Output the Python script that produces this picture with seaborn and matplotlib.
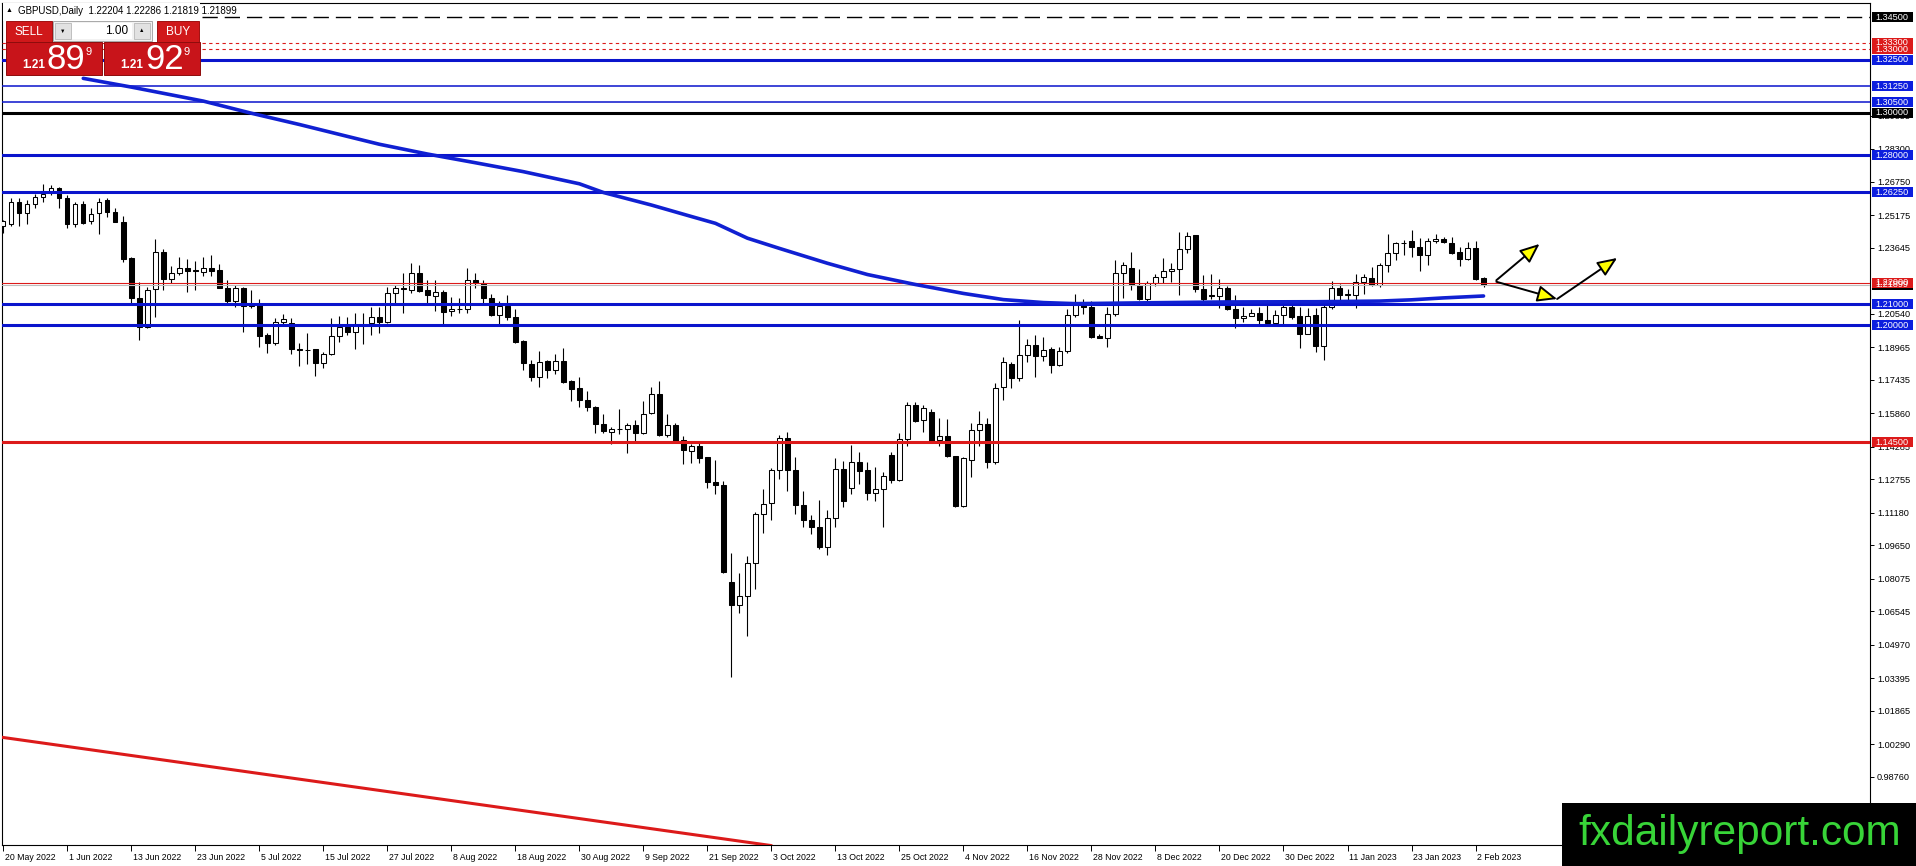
import numpy as np
import matplotlib.pyplot as plt
import matplotlib.transforms as mtransforms
from matplotlib.patches import Rectangle
import seaborn as sns

# ===============================
# DATA
# ===============================
opens = [1.2467, 1.2475, 1.2581, 1.2527, 1.2569, 1.2602, 1.2628, 1.2644, 1.2597, 1.2479,
         1.2569, 1.2490, 1.2527, 1.2589, 1.2531, 1.2487, 1.2315, 1.2127, 1.1993, 1.2169,
         1.2343, 1.2216, 1.2244, 1.2272, 1.2259, 1.2252, 1.2268, 1.2260, 1.2177, 1.2116,
         1.2174, 1.2091, 1.2098, 1.1953, 1.1918, 1.2017, 1.2009, 1.1887, 1.1884, 1.1887,
         1.1821, 1.1865, 1.1949, 1.1993, 1.1970, 1.2001, 1.2009, 1.2037, 1.2017, 1.2150,
         1.2174, 1.2166, 1.2244, 1.2166, 1.2139, 1.2155, 1.2067, 1.2075, 1.2075, 1.2213,
         1.2197, 1.2127, 1.2048, 1.2089, 1.2041, 1.1926, 1.1816, 1.1756, 1.1830, 1.1791,
         1.1830, 1.1737, 1.1704, 1.1649, 1.1618, 1.1536, 1.1500, 1.1513, 1.1513, 1.1529,
         1.1494, 1.1588, 1.1678, 1.1485, 1.1532, 1.1461, 1.1411, 1.1430, 1.1379, 1.1265,
         1.1251, 1.0794, 1.0684, 1.0728, 1.0882, 1.1112, 1.1163, 1.1317, 1.1470, 1.1320,
         1.1155, 1.1084, 1.1053, 1.0959, 1.1094, 1.1324, 1.1235, 1.1356, 1.1317, 1.1211,
         1.1230, 1.1392, 1.1273, 1.1466, 1.1623, 1.1555, 1.1591, 1.1461, 1.1481, 1.1387,
         1.1152, 1.1367, 1.1508, 1.1536, 1.1356, 1.1708, 1.1818, 1.1752, 1.1861, 1.1908,
         1.1854, 1.1889, 1.1813, 1.1878, 1.2050, 1.2105, 1.2086, 1.1952, 1.1941, 1.2054,
         1.2248, 1.2272, 1.2188, 1.2125, 1.2199, 1.2228, 1.2256, 1.2267, 1.2361, 1.2424,
         1.2172, 1.2143, 1.2136, 1.2177, 1.2078, 1.2035, 1.2045, 1.2057, 1.2026, 1.2010,
         1.2050, 1.2086, 1.2042, 1.1960, 1.2050, 1.1902, 1.2086, 1.2176, 1.2144, 1.2141,
         1.2204, 1.2225, 1.2188, 1.2283, 1.2338, 1.2385, 1.2396, 1.2369, 1.2333, 1.2396,
         1.2404, 1.2388, 1.2343, 1.2314, 1.2366, 1.22204]
highs = [1.2495, 1.2597, 1.2597, 1.2592, 1.2616, 1.2663, 1.2658, 1.2649, 1.2613, 1.2581,
         1.2585, 1.2550, 1.2600, 1.2597, 1.2550, 1.2514, 1.2323, 1.2205, 1.2182, 1.2404,
         1.2357, 1.2279, 1.2320, 1.2310, 1.2304, 1.2320, 1.2330, 1.2288, 1.2213, 1.2189,
         1.2182, 1.2166, 1.2122, 1.1962, 1.2033, 1.2053, 1.2036, 1.1915, 1.1965, 1.1890,
         1.1874, 1.2033, 1.2044, 1.2037, 1.2056, 1.2059, 1.2087, 1.2087, 1.2182, 1.2189,
         1.2244, 1.2294, 1.2283, 1.2213, 1.2213, 1.2166, 1.2134, 1.2127, 1.2272, 1.2244,
         1.2213, 1.2147, 1.2116, 1.2142, 1.2075, 1.1932, 1.1835, 1.1879, 1.1835, 1.1863,
         1.1894, 1.1744, 1.1759, 1.1693, 1.1620, 1.1583, 1.1521, 1.1607, 1.1540, 1.1555,
         1.1643, 1.1709, 1.1736, 1.1583, 1.1540, 1.1477, 1.1442, 1.1458, 1.1382, 1.1364,
         1.1269, 1.0927, 1.0833, 1.0916, 1.1120, 1.1230, 1.1329, 1.1486, 1.1497, 1.1379,
         1.1222, 1.1109, 1.1178, 1.1131, 1.1376, 1.1361, 1.1439, 1.1403, 1.1356, 1.1332,
         1.1309, 1.1403, 1.1492, 1.1638, 1.1638, 1.1623, 1.1607, 1.1565, 1.1560, 1.1387,
         1.1379, 1.1540, 1.1596, 1.1565, 1.1728, 1.1853, 1.1826, 1.2023, 1.1936, 1.1955,
         1.1947, 1.1897, 1.1900, 1.2078, 1.2149, 1.2125, 1.2114, 1.1960, 1.2086, 1.2306,
         1.2298, 1.2343, 1.2267, 1.2209, 1.2243, 1.2319, 1.2295, 1.2440, 1.2440, 1.2424,
         1.2235, 1.2240, 1.2220, 1.2183, 1.2141, 1.2086, 1.2078, 1.2086, 1.2120, 1.2073,
         1.2094, 1.2094, 1.2086, 1.2083, 1.2083, 1.2094, 1.2209, 1.2193, 1.2172, 1.2243,
         1.2243, 1.2275, 1.2294, 1.2432, 1.2393, 1.2401, 1.2448, 1.2409, 1.2409, 1.2429,
         1.2417, 1.2417, 1.2369, 1.2390, 1.2396, 1.22286]
lows = [1.2436, 1.2468, 1.2468, 1.2479, 1.2550, 1.2581, 1.2613, 1.2553, 1.2456, 1.2464,
        1.2476, 1.2475, 1.2428, 1.2508, 1.2484, 1.2296, 1.2100, 1.1931, 1.1986, 1.2037,
        1.2166, 1.2200, 1.2236, 1.2158, 1.2166, 1.2232, 1.2232, 1.2174, 1.2106, 1.2087,
        1.1970, 1.2080, 1.1896, 1.1871, 1.1907, 1.2006, 1.1865, 1.1808, 1.1818, 1.1761,
        1.1797, 1.1860, 1.1923, 1.1954, 1.1887, 1.1912, 1.1954, 1.1962, 1.2009, 1.2103,
        1.2059, 1.2153, 1.2155, 1.2103, 1.2069, 1.2006, 1.2044, 1.2059, 1.2059, 1.2174,
        1.2103, 1.2044, 1.2006, 1.2026, 1.1916, 1.1791, 1.1737, 1.1712, 1.1753, 1.1772,
        1.1728, 1.1643, 1.1615, 1.1596, 1.1492, 1.1492, 1.1442, 1.1489, 1.1398, 1.1450,
        1.1489, 1.1583, 1.1481, 1.1474, 1.1450, 1.1348, 1.1351, 1.1351, 1.1233, 1.1207,
        1.0833, 1.0343, 1.0645, 1.0536, 1.0759, 1.1021, 1.1084, 1.1277, 1.1222, 1.1112,
        1.1050, 1.1018, 1.0948, 1.0921, 1.1053, 1.1147, 1.1207, 1.1254, 1.1178, 1.1172,
        1.1053, 1.1257, 1.1266, 1.1430, 1.1544, 1.1497, 1.1450, 1.1430, 1.1379, 1.1147,
        1.1144, 1.1285, 1.1430, 1.1329, 1.1348, 1.1648, 1.1705, 1.1736, 1.1826, 1.1755,
        1.1834, 1.1774, 1.1810, 1.1868, 1.2039, 1.2054, 1.1941, 1.1938, 1.1897, 1.2046,
        1.2128, 1.2165, 1.2120, 1.2114, 1.2183, 1.2199, 1.2204, 1.2143, 1.2338, 1.2157,
        1.2114, 1.2125, 1.2083, 1.2073, 1.1988, 1.2015, 1.2042, 1.2004, 1.2007, 1.2004,
        1.2007, 1.2031, 1.1894, 1.1957, 1.1873, 1.1837, 1.2078, 1.2117, 1.2117, 1.2083,
        1.2149, 1.2183, 1.2180, 1.2251, 1.2306, 1.2330, 1.2322, 1.2256, 1.2283, 1.2388,
        1.2388, 1.2335, 1.2278, 1.2306, 1.2215, 1.21819]
closes = [1.2491, 1.2581, 1.2527, 1.2569, 1.2605, 1.2616, 1.2644, 1.2597, 1.2479, 1.2569,
          1.2483, 1.2522, 1.2581, 1.2531, 1.2487, 1.2310, 1.2127, 1.1993, 1.2166, 1.2343,
          1.2216, 1.2244, 1.2272, 1.2257, 1.2255, 1.2268, 1.2257, 1.2177, 1.2116, 1.2174,
          1.2091, 1.2095, 1.1949, 1.1918, 1.2017, 1.2028, 1.1887, 1.1884, 1.1883, 1.1821,
          1.1865, 1.1949, 1.1993, 1.1970, 1.2001, 1.2003, 1.2037, 1.2017, 1.2150, 1.2174,
          1.2172, 1.2244, 1.2163, 1.2142, 1.2155, 1.2064, 1.2075, 1.2076, 1.2213, 1.2200,
          1.2127, 1.2048, 1.2091, 1.2041, 1.1920, 1.1822, 1.1756, 1.1827, 1.1788, 1.1830,
          1.1733, 1.1701, 1.1649, 1.1615, 1.1536, 1.1502, 1.1513, 1.1512, 1.1529, 1.1494,
          1.1583, 1.1678, 1.1485, 1.1532, 1.1458, 1.1414, 1.1430, 1.1376, 1.1262, 1.1249,
          1.0838, 1.0684, 1.0728, 1.0882, 1.1112, 1.1160, 1.1317, 1.1470, 1.1320, 1.1155,
          1.1084, 1.1050, 1.0959, 1.1094, 1.1324, 1.1172, 1.1356, 1.1313, 1.1210, 1.1230,
          1.1293, 1.1273, 1.1466, 1.1623, 1.1552, 1.1612, 1.1458, 1.1481, 1.1383, 1.1152,
          1.1376, 1.1508, 1.1536, 1.1356, 1.1706, 1.1826, 1.1752, 1.1861, 1.1908, 1.1854,
          1.1884, 1.1813, 1.1881, 1.2050, 1.2105, 1.2086, 1.1947, 1.1941, 1.2054, 1.2248,
          1.2286, 1.2188, 1.2125, 1.2199, 1.2228, 1.2256, 1.2267, 1.2361, 1.2421, 1.2169,
          1.2125, 1.2138, 1.2177, 1.2076, 1.2035, 1.2045, 1.2057, 1.2026, 1.2010, 1.2050,
          1.2086, 1.2039, 1.1960, 1.2046, 1.1902, 1.2086, 1.2176, 1.2144, 1.2146, 1.2204,
          1.2228, 1.2188, 1.2283, 1.2338, 1.2385, 1.2388, 1.2369, 1.2333, 1.2396, 1.2404,
          1.2390, 1.2341, 1.2314, 1.2365, 1.2217, 1.21899]

date_labels = ["20 May 2022", "1 Jun 2022", "13 Jun 2022", "23 Jun 2022", "5 Jul 2022",
               "15 Jul 2022", "27 Jul 2022", "8 Aug 2022", "18 Aug 2022", "30 Aug 2022",
               "9 Sep 2022", "21 Sep 2022", "3 Oct 2022", "13 Oct 2022", "25 Oct 2022",
               "4 Nov 2022", "16 Nov 2022", "28 Nov 2022", "8 Dec 2022", "20 Dec 2022",
               "30 Dec 2022", "11 Jan 2023", "23 Jan 2023", "2 Feb 2023"]
date_bars = list(range(0, 185, 8))

# moving average, read at a set of bars
ma_bars = [10, 16, 25, 31, 37, 43, 47, 53, 59, 65, 72, 75, 81, 86, 89, 93, 97,
           103, 108, 114, 120, 125, 130, 134, 143, 153, 164, 172, 176, 180, 185]
ma_values = [1.3162, 1.3121, 1.3055, 1.2998, 1.2945, 1.2889, 1.2852, 1.2806, 1.2765,
             1.2723, 1.2666, 1.2625, 1.2566, 1.2512, 1.2480, 1.2410, 1.2362, 1.2292,
             1.2239, 1.2192, 1.2150, 1.2121, 1.2107, 1.2102, 1.2106, 1.2110, 1.2111,
             1.2114, 1.2120, 1.2129, 1.2138]

# red trend line anchors
trend_bars = [-1, 96]
trend_values = [1.0066, 0.9552]

# horizontal levels
levels = [1.34500, 1.33000, 1.33300, 1.32500, 1.31250, 1.30500, 1.30000,
          1.28000, 1.26250, 1.22000, 1.21000, 1.20000, 1.14500]
level_kinds = ["black_dash", "red_dot", "red_dot", "blue_thick", "blue_thin", "blue_thin",
               "black_thick", "blue_thick", "blue_thick", "red_thin", "blue_thick",
               "blue_thick", "red_thick"]

bid = 1.21899
header_ohlc = [1.22204, 1.22286, 1.21819, 1.21899]

tick_values = [0.98760, 1.00290, 1.01865, 1.03395, 1.04970, 1.06545, 1.08075,
               1.09650, 1.11180, 1.12755, 1.14285, 1.15860, 1.17435, 1.18965, 1.20540,
               1.23645, 1.25175, 1.26750, 1.28300, 1.29855]

# arrows drawn on the chart: (bar0, price0, bar1, price1)
arrow_segments = [(186.6, 1.2212, 192.0, 1.2383),
                  (186.6, 1.2205, 194.2, 1.2124),
                  (194.2, 1.2124, 201.7, 1.2317)]

# ===============================
# STYLE
# ===============================
W, H = 1916, 866
BLUE = "#0a14cc"
BLUE_BOX = "#0c1ede"
RED = "#dc1a1a"
kind_style = {
    "black_dash": dict(color="black", lw=1.0, ls=(0, (11, 5)), box="black"),
    "red_dot": dict(color=RED, lw=0.8, ls=(0, (3, 3)), box=RED),
    "blue_thick": dict(color=BLUE, lw=2.2, ls="-", box=BLUE_BOX),
    "blue_thin": dict(color=BLUE, lw=1.1, ls="-", box=BLUE_BOX),
    "black_thick": dict(color="black", lw=2.2, ls="-", box="black"),
    "red_thin": dict(color=RED, lw=0.8, ls="-", box=RED),
    "red_thick": dict(color=RED, lw=2.2, ls="-", box=RED),
}

sns.set_theme(style="white")
plt.rcParams["font.family"] = ["Liberation Sans", "DejaVu Sans"]
plt.rcParams["axes.linewidth"] = 0.8

fig = plt.figure(figsize=(W / 100, H / 100), dpi=100)
fig.patch.set_facecolor("white")
ax = fig.add_axes([2 / W, (H - 845) / H, 1868 / W, 842.3 / H])
ax.set_facecolor("white")

# ===============================
# CANDLES
# ===============================
o = np.array(opens)
c = np.array(closes)
hi = np.array(highs)
lo = np.array(lows)
idx = np.arange(len(o))
up = c >= o
body_lo = np.minimum(o, c)
body_h = np.maximum(np.abs(c - o), 0.00004)

ax.vlines(idx, lo, hi, color="black", lw=0.8, zorder=2)
ax.bar(idx[up], body_h[up], bottom=body_lo[up], width=0.55, color="white",
       edgecolor="black", linewidth=0.75, zorder=3)
ax.bar(idx[~up], body_h[~up], bottom=body_lo[~up], width=0.55, color="black",
       edgecolor="black", linewidth=0.75, zorder=3)

# ===============================
# LEVELS, MA, TREND
# ===============================
for lv, kind in zip(levels, level_kinds):
    st = kind_style[kind]
    ax.axhline(lv, color=st["color"], lw=st["lw"], ls=st["ls"], zorder=4)
ax.axhline(bid, color="#bdbdbd", lw=0.8, zorder=3.5)

sns.lineplot(x=ma_bars, y=ma_values, ax=ax, color="#1020d2", lw=2.6, zorder=5)
sns.lineplot(x=trend_bars, y=trend_values, ax=ax, color=RED, lw=2.2, zorder=5)

for x0, y0, x1, y1 in arrow_segments:
    ax.annotate("", xy=(x1, y1), xytext=(x0, y0), zorder=6,
                arrowprops=dict(arrowstyle="-|>,head_length=1.0,head_width=0.42",
                                fc="#ffff00", ec="black", lw=1.4,
                                shrinkA=0, shrinkB=0))

ax.set_xlim(-0.16, 233.3)
ax.set_ylim(0.95548, 1.3518)

# ===============================
# AXES / TICKS
# ===============================
for sp in ax.spines.values():
    sp.set_color("black")
    sp.set_linewidth(0.8)
ax.yaxis.tick_right()
ax.set_yticks(tick_values)
ax.set_yticklabels([f"{v:.5f}" for v in tick_values])
ax.tick_params(axis="y", right=True, left=False, length=3, width=0.7,
               pad=2, labelsize=6.6, colors="black")
ax.set_xticks(date_bars)
ax.set_xticklabels(date_labels)
ax.tick_params(axis="x", bottom=True, length=4, width=0.7, pad=1.5,
               labelsize=6.3, colors="black")
shift = mtransforms.ScaledTranslation(1.5 / 100, 0, fig.dpi_scale_trans)
for lbl in ax.get_xticklabels():
    lbl.set_ha("left")
    lbl.set_transform(lbl.get_transform() + shift)
ax.grid(False)

# price boxes at the right
box_tr = mtransforms.blended_transform_factory(fig.transFigure, ax.transData)
box_h = 10 * 0.0004705


def price_box(value, color):
    ax.add_patch(Rectangle((1872 / W, value - box_h / 2), 41 / W, box_h,
                           transform=box_tr, facecolor=color, edgecolor="none",
                           clip_on=False, zorder=20))
    ax.text(1875 / W, value, f"{value:.5f}", transform=box_tr, color="white",
            fontsize=6.6, ha="left", va="center", clip_on=False, zorder=21)


price_box(bid, "black")
for lv, kind in zip(levels, level_kinds):
    price_box(lv, kind_style[kind]["box"])


# ===============================
# ONE-CLICK PANEL & HEADER
# ===============================
def fig_rect(x, y, w, h, **kw):
    fig.add_artist(Rectangle((x / W, 1 - (y + h) / H), w / W, h / H,
                             transform=fig.transFigure, **kw))


def fig_text(x, y, s, **kw):
    fig.text(x / W, 1 - y / H, s, **kw)


fig_rect(3, 3, 197, 18, facecolor="white", edgecolor="none", zorder=8)
fig_text(6, 11, "\u25B2", fontsize=5, color="black", va="center", zorder=9)
fig_text(18, 11, "GBPUSD,Daily  " + " ".join(f"{v:.5f}" for v in header_ohlc),
         fontsize=7, color="black", va="center", zorder=9)

fig_rect(6, 21, 46, 21, facecolor="#d0181a", edgecolor="#a01010", lw=0.7, zorder=8)
fig_text(29, 32, "SELL", fontsize=8.5, color="white", ha="center", va="center", zorder=9)
fig_rect(53, 21, 99, 20, facecolor="#f2f2f2", edgecolor="#a8a8a8", lw=0.7, zorder=8)
fig_rect(55, 23, 16, 16, facecolor="#e2e2e2", edgecolor="#b8b8b8", lw=0.6, zorder=9)
fig_text(63, 31, "\u25BC", fontsize=4, color="black", ha="center", va="center", zorder=10)
fig_rect(72, 23, 60, 16, facecolor="white", edgecolor="none", zorder=9)
fig_text(128, 31, "1.00", fontsize=8.5, color="black", ha="right", va="center", zorder=10)
fig_rect(134, 23, 16, 16, facecolor="#e2e2e2", edgecolor="#b8b8b8", lw=0.6, zorder=9)
fig_text(142, 31, "\u25B2", fontsize=4, color="black", ha="center", va="center", zorder=10)
fig_rect(157, 21, 42, 21, facecolor="#d0181a", edgecolor="#a01010", lw=0.7, zorder=8)
fig_text(178, 32, "BUY", fontsize=8.5, color="white", ha="center", va="center", zorder=9)

for bx, big in [(6, "89"), (104, "92")]:
    fig_rect(bx, 42, 96, 33, facecolor="#c8141a", edgecolor="#8e0c0c", lw=0.7, zorder=8)
    fig_text(bx + 16, 68, "1.21", fontsize=8.5, color="white", fontweight="bold",
             va="baseline", zorder=9)
    fig_text(bx + 41, 69, big, fontsize=25, color="white", va="baseline", zorder=9)
    fig_text(bx + 79, 55, "9", fontsize=8, color="white", va="baseline", zorder=9)

# watermark
fig_rect(1562, 803, 354, 63, facecolor="black", edgecolor="none", zorder=8)
fig_text(1578, 845, "fxdailyreport.com", fontsize=30.5, color="#38d438",
         va="baseline", zorder=9)

plt.savefig("out.png", dpi=100)
plt.close()
